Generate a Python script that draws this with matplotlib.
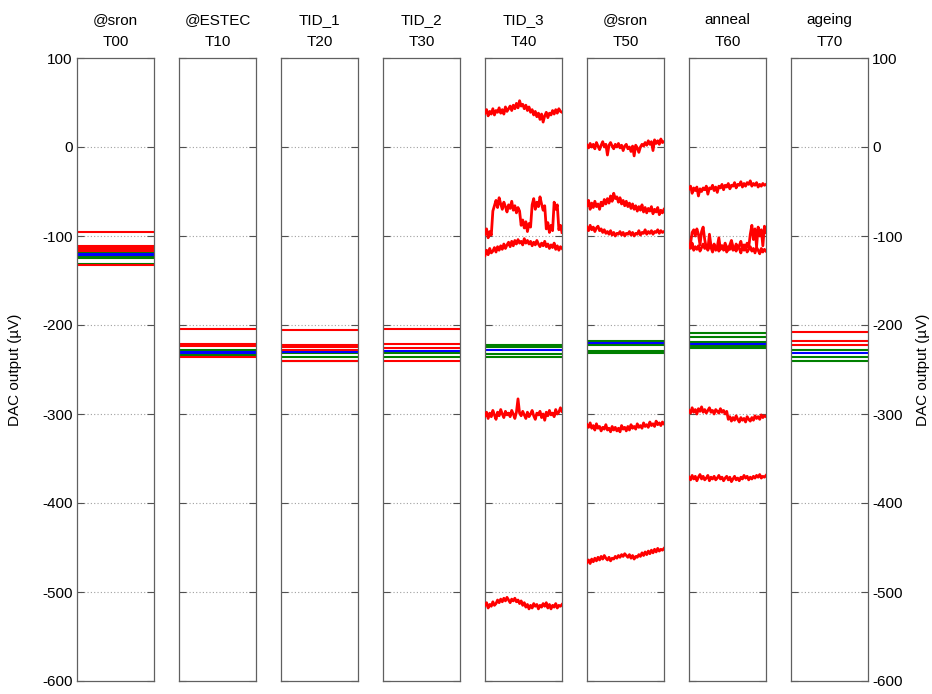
import numpy as np
import matplotlib
matplotlib.use("Agg")
import matplotlib.pyplot as plt

plt.rcParams['font.family'] = ['Liberation Sans', 'DejaVu Sans']
plt.rcParams['axes.unicode_minus'] = False

# ---- panel titles ----
top_titles = ["@sron", "@ESTEC", "TID_1", "TID_2", "TID_3", "@sron", "anneal", "ageing"]
bot_titles = ["T00", "T10", "T20", "T30", "T40", "T50", "T60", "T70"]
yticks = [100, 0, -100, -200, -300, -400, -500, -600]

# ---- flat (quiet) channel levels per panel ----
t00_red = [-95, -111, -113, -115, -117, -133]
t00_green = [-118, -123, -125, -131]
t00_blue = [-120, -121]
t10_red = [-205, -221, -224, -236]
t10_green = [-222, -228, -234]
t10_blue = [-230, -231]
t20_red = [-206, -222, -225, -228, -241]
t20_green = [-231, -236, -240]
t20_blue = [-230]
t30_red = [-205, -221, -226, -241]
t30_green = [-232, -236]
t30_blue = [-229]
t40_green = [-222, -225, -233, -236]
t40_blue = [-228]
t50_green = [-218, -222, -229, -231]
t50_blue = [-220]
t60_green = [-209, -213, -219, -224, -226]
t60_blue = [-221]
t70_red = [-208, -218, -223]
t70_green = [-228, -236, -241]
t70_blue = [-232]

# ---- noisy red traces ----
t40_top = [38, 42, 35, 40, 37, 43, 36, 41, 39, 44, 38, 42, 37, 45, 40, 43, 46, 41, 47, 43,
           49, 44, 52, 46, 48, 43, 47, 41, 45, 39, 42, 36, 40, 34, 38, 31, 37, 28, 35, 39,
           33, 38, 36, 41, 37, 42, 38, 43, 40, 39]
t40_sw = [-98, -92, -102, -95, -99, -72, -66, -60, -68, -57, -64, -70, -62, -67, -73, -65,
          -69, -61, -71, -66, -74, -68, -72, -88, -82, -91, -84, -95, -86, -90, -65, -58,
          -70, -62, -67, -56, -64, -71, -66, -92, -85, -96, -88, -94, -62, -70, -65, -93,
          -88, -96]
t40_lo = [-122, -116, -121, -114, -119, -117, -113, -118, -112, -116, -111, -115, -109, -114,
          -110, -107, -112, -106, -111, -105, -109, -104, -108, -106, -110, -103, -108, -105,
          -109, -106, -111, -107, -110, -105, -109, -112, -108, -111, -106, -112, -109, -114,
          -110, -113, -108, -115, -111, -116, -112, -114]
t40_m300 = [-302, -298, -305, -299, -303, -296, -301, -306, -298, -302, -295, -300, -304, -297,
            -301, -299, -303, -296, -300, -305, -298, -283, -299, -302, -297, -301, -305, -298,
            -303, -300, -296, -302, -306, -299, -301, -297, -304, -300, -307, -298, -302, -296,
            -301, -299, -303, -295, -300, -298, -293, -297]
t40_m515 = [-515, -512, -518, -514, -516, -511, -515, -513, -509, -512, -508, -511, -507, -510,
            -506, -509, -512, -508, -510, -507, -511, -509, -513, -510, -515, -512, -517, -514,
            -519, -515, -518, -513, -516, -514, -519, -515, -517, -513, -516, -512, -518, -514,
            -519, -515, -517, -513, -518, -515, -516, -514]
t50_top = [2, -1, 4, 0, 3, -2, 5, 1, -3, 2, 6, 0, 3, -9, 2, 5, 1, -2, 3, 0, 4, -1, 2, -4, 1,
           3, -2, 0, -5, 1, -10, 2, -1, -6, 0, 3, 1, 5, 2, 7, 3, 6, -4, 8, 4, 7, 3, 9, 5, 6]
t50_mid = [-66, -60, -70, -63, -68, -61, -67, -64, -70, -62, -66, -59, -64, -58, -63, -55, -61,
           -52, -58, -56, -62, -57, -64, -60, -66, -61, -67, -63, -69, -64, -70, -66, -72, -67,
           -71, -65, -73, -68, -74, -69, -72, -67, -75, -70, -73, -68, -76, -71, -74, -70]
t50_lo = [-90, -94, -88, -93, -90, -95, -91, -89, -94, -92, -96, -93, -97, -95, -98, -94, -99,
          -96, -100, -97, -98, -95, -99, -96, -100, -97, -98, -95, -99, -96, -100, -97, -98,
          -94, -99, -96, -97, -93, -98, -95, -97, -94, -98, -95, -96, -93, -97, -94, -96, -95]
t50_m313 = [-312, -315, -310, -316, -313, -318, -311, -316, -314, -319, -315, -317, -312, -318,
            -316, -320, -314, -318, -315, -319, -316, -320, -313, -317, -315, -319, -314, -318,
            -312, -316, -314, -317, -311, -315, -313, -316, -310, -314, -312, -315, -309, -313,
            -311, -314, -308, -312, -310, -313, -309, -311]
t50_m465 = [-467, -464, -468, -463, -466, -462, -465, -461, -464, -460, -463, -459, -462, -464,
            -461, -465, -462, -463, -460, -462, -459, -461, -458, -460, -457, -459, -461, -458,
            -462, -459, -463, -460, -461, -458, -460, -456, -459, -455, -458, -454, -457, -453,
            -456, -452, -455, -451, -454, -452, -453, -451]
t60_top = [-47, -44, -52, -46, -49, -45, -55, -47, -50, -46, -48, -44, -53, -46, -47, -43, -49,
           -45, -51, -44, -46, -42, -48, -43, -45, -41, -47, -43, -44, -40, -46, -42, -43, -39,
           -45, -41, -44, -40, -42, -38, -44, -41, -43, -40, -45, -42, -44, -41, -43, -42]
t60_lo1 = [-110, -114, -108, -116, -112, -115, -111, -117, -113, -109, -114, -112, -116, -111,
           -113, -118, -110, -115, -112, -117, -114, -111, -116, -113, -118, -112, -115, -110,
           -116, -113, -117, -111, -114, -119, -112, -116, -113, -118, -115, -112, -117, -114,
           -119, -113, -116, -120, -114, -118, -115, -117]
t60_lo2 = [-112, -108, -96, -93, -100, -92, -98, -110, -95, -90, -104, -113, -115, -98, -111,
           -114, -109, -116, -112, -102, -115, -111, -114, -108, -113, -116, -110, -105, -112,
           -115, -109, -113, -111, -106, -114, -110, -112, -108, -113, -98, -88, -104, -92,
           -112, -90, -100, -93, -111, -89, -96]
t60_m300 = [-296, -299, -293, -298, -295, -300, -294, -297, -292, -298, -295, -299, -296, -293,
            -298, -296, -300, -295, -297, -299, -294, -298, -296, -300, -297, -306, -303, -308,
            -304, -307, -302, -306, -309, -304, -307, -305, -309, -303, -306, -308, -304, -307,
            -302, -305, -303, -306, -301, -304, -302, -303]
t60_m372 = [-371, -374, -369, -373, -370, -375, -371, -368, -373, -370, -374, -372, -369, -375,
            -371, -373, -370, -374, -372, -369, -373, -371, -375, -372, -370, -374, -371, -376,
            -373, -370, -374, -372, -375, -371, -373, -369, -372, -370, -374, -371, -373, -370,
            -372, -369, -371, -368, -372, -370, -371, -369]

RED = '#ff0000'
GREEN = '#008000'
BLUE = '#0000ff'

flat = [
    (t00_red, t00_green, t00_blue),
    (t10_red, t10_green, t10_blue),
    (t20_red, t20_green, t20_blue),
    (t30_red, t30_green, t30_blue),
    ([], t40_green, t40_blue),
    ([], t50_green, t50_blue),
    ([], t60_green, t60_blue),
    (t70_red, t70_green, t70_blue),
]
noisy = {
    4: [t40_top, t40_sw, t40_lo, t40_m300, t40_m515],
    5: [t50_top, t50_mid, t50_lo, t50_m313, t50_m465],
    6: [t60_top, t60_lo1, t60_lo2, t60_m300, t60_m372],
}

W, H = 932, 694
fig = plt.figure(figsize=(W / 100, H / 100), dpi=100)

left0 = 77 / W
pw = 77 / W
step = 102 / W
bottom = 1 - 681 / H
height = (681 - 58) / H

for i in range(8):
    ax = fig.add_axes([left0 + i * step, bottom, pw, height])
    ax.set_xlim(0, 1)
    ax.set_ylim(-600, 100)
    for y in yticks[1:-1]:
        ax.axhline(y, color='#a0a0a0', lw=0.8, ls=(0, (1, 2)), zorder=1)
    reds, greens, blues = flat[i]
    for v in greens:
        ax.plot([0, 1], [v, v], color=GREEN, lw=1.5, zorder=2)
    for v in blues:
        ax.plot([0, 1], [v, v], color=BLUE, lw=1.5, zorder=2)
    for v in reds:
        ax.plot([0, 1], [v, v], color=RED, lw=1.5, zorder=2)
    for tr in noisy.get(i, []):
        x = np.linspace(0, 1, len(tr))
        ax.plot(x, tr, color=RED, lw=2.0, zorder=3)
    ax.set_xticks([])
    ax.set_yticks(yticks)
    ax.tick_params(axis='y', direction='in', length=5, width=0.8, color='#505050',
                   left=True, right=True, labelleft=(i == 0), labelright=(i == 7),
                   labelsize=11, pad=3)
    for s in ax.spines.values():
        s.set_color('#606060')
        s.set_linewidth(0.9)
    ax.set_title(top_titles[i] + "\n" + bot_titles[i], fontsize=11, linespacing=1.65, pad=9)

fig.text(15 / W, 1 - 370 / H, "DAC output (µV)", rotation=90, ha='center', va='center', fontsize=11)
fig.text(923 / W, 1 - 370 / H, "DAC output (µV)", rotation=90, ha='center', va='center', fontsize=11)

fig.savefig("out.png", dpi=100)
